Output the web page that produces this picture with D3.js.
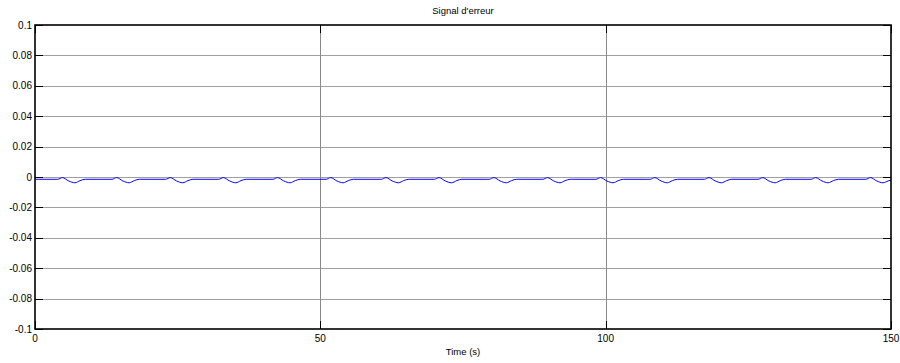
<!DOCTYPE html>
<html>
<head>
<meta charset="utf-8">
<script src="https://cdn.jsdelivr.net/npm/d3@7"></script>
<style>
  html, body { margin: 0; padding: 0; background: #fff; }
  svg { display: block; font-family: "Liberation Sans", Arial, sans-serif; }
</style>
</head>
<body>
<svg id="chart" width="900" height="363"></svg>
<script>
const chartTitle = "Signal d'erreur";
const xLabel = "Time (s)";
const xTicks = [0, 50, 100, 150];
const yTicks = [-0.1, -0.08, -0.06, -0.04, -0.02, 0, 0.02, 0.04, 0.06, 0.08, 0.1];
const yTickLabels = ["-0.1", "-0.08", "-0.06", "-0.04", "-0.02", "0", "0.02", "0.04", "0.06", "0.08", "0.1"];

const times = [
  0,
  4.0, 4.8, 5.9, 7.0, 7.9, 8.8,
  13.5, 14.3, 15.4, 16.5, 17.4, 18.3,
  22.9, 23.7, 24.8, 25.9, 26.8, 27.7,
  32.2, 33.0, 34.1, 35.2, 36.1, 37.0,
  41.7, 42.5, 43.6, 44.7, 45.6, 46.5,
  51.0, 51.8, 52.9, 54.0, 54.9, 55.8,
  60.7, 61.5, 62.6, 63.7, 64.6, 65.5,
  70.0, 70.8, 71.9, 73.0, 73.9, 74.8,
  79.6, 80.4, 81.5, 82.6, 83.5, 84.4,
  89.0, 89.8, 90.9, 92.0, 92.9, 93.8,
  98.3, 99.1, 100.2, 101.3, 102.2, 103.1,
  107.8, 108.6, 109.7, 110.8, 111.7, 112.6,
  117.3, 118.1, 119.2, 120.3, 121.2, 122.1,
  126.7, 127.5, 128.6, 129.7, 130.6, 131.5,
  136.0, 136.8, 137.9, 139.0, 139.9, 140.8,
  145.6, 146.4, 147.5, 148.6, 149.5, 150
];
const values = [
  -0.0015,
  -0.0015, -0.0004, -0.0026, -0.0038, -0.0024, -0.0015,
  -0.0015, -0.0004, -0.0026, -0.0038, -0.0024, -0.0015,
  -0.0015, -0.0004, -0.0026, -0.0038, -0.0024, -0.0015,
  -0.0015, -0.0004, -0.0026, -0.0038, -0.0024, -0.0015,
  -0.0015, -0.0004, -0.0026, -0.0038, -0.0024, -0.0015,
  -0.0015, -0.0004, -0.0026, -0.0038, -0.0024, -0.0015,
  -0.0015, -0.0004, -0.0026, -0.0038, -0.0024, -0.0015,
  -0.0015, -0.0004, -0.0026, -0.0038, -0.0024, -0.0015,
  -0.0015, -0.0004, -0.0026, -0.0038, -0.0024, -0.0015,
  -0.0015, -0.0004, -0.0026, -0.0038, -0.0024, -0.0015,
  -0.0015, -0.0004, -0.0026, -0.0038, -0.0024, -0.0015,
  -0.0015, -0.0004, -0.0026, -0.0038, -0.0024, -0.0015,
  -0.0015, -0.0004, -0.0026, -0.0038, -0.0024, -0.0015,
  -0.0015, -0.0004, -0.0026, -0.0038, -0.0024, -0.0015,
  -0.0015, -0.0004, -0.0026, -0.0038, -0.0024, -0.0015,
  -0.0015, -0.0004, -0.0026, -0.0038, -0.0026, -0.0020
];

const margin = { left: 35, right: 9, top: 25, bottom: 34 };
const W = 900, H = 363;
const svg = d3.select("#chart");
const x = d3.scaleLinear().domain([0, 150]).range([margin.left, W - margin.right]);
const y = d3.scaleLinear().domain([-0.1, 0.1]).range([H - margin.bottom, margin.top]);
const x0 = x.range()[0], x1 = x.range()[1], y0 = y.range()[0], y1 = y.range()[1];

// grid
const grid = svg.append("g");
grid.selectAll("line.hg").data(yTicks.filter(v => v > -0.1 && v < 0.1)).enter().append("line")
  .attr("x1", x0).attr("x2", x1)
  .attr("y1", d => Math.round(y(d)) + 0.5).attr("y2", d => Math.round(y(d)) + 0.5)
  .attr("stroke", "#a0a0a0").attr("stroke-width", 1);
grid.selectAll("line.vg").data(xTicks.filter(v => v > 0 && v < 150)).enter().append("line")
  .attr("x1", d => Math.round(x(d)) + 0.5).attr("x2", d => Math.round(x(d)) + 0.5)
  .attr("y1", y1).attr("y2", y0)
  .attr("stroke", "#8a8a8a").attr("stroke-width", 1);

// data line
const line = d3.line().curve(d3.curveMonotoneX).x((d, i) => x(times[i])).y((d, i) => y(values[i]));
svg.append("path").datum(values).attr("d", line)
  .attr("fill", "none").attr("stroke", "#0000ff").attr("stroke-width", 1);

// axes box
svg.append("rect").attr("x", x0).attr("y", y1).attr("width", x1 - x0).attr("height", y0 - y1)
  .attr("fill", "none").attr("stroke", "#000").attr("stroke-width", 1.6);

// ticks (inside)
const tl = 8;
const tk = svg.append("g").attr("stroke", "#000").attr("stroke-width", 1);
xTicks.forEach(v => {
  const px = Math.round(x(v)) + 0.5;
  tk.append("line").attr("x1", px).attr("x2", px).attr("y1", y0).attr("y2", y0 - tl);
  tk.append("line").attr("x1", px).attr("x2", px).attr("y1", y1).attr("y2", y1 + tl);
});
yTicks.forEach(v => {
  const py = Math.round(y(v)) + 0.5;
  tk.append("line").attr("x1", x0).attr("x2", x0 + tl).attr("y1", py).attr("y2", py);
  tk.append("line").attr("x1", x1).attr("x2", x1 - tl).attr("y1", py).attr("y2", py);
});

// tick labels
svg.append("g").selectAll("text").data(xTicks).enter().append("text")
  .attr("x", d => x(d)).attr("y", y0 + 13)
  .attr("text-anchor", "middle").attr("font-size", 10).attr("fill", "#000")
  .text(d => d);
svg.append("g").selectAll("text").data(yTicks).enter().append("text")
  .attr("x", x0 - 3).attr("y", d => y(d) + 3.5)
  .attr("text-anchor", "end").attr("font-size", 10).attr("fill", "#000")
  .text((d, i) => yTickLabels[i]);

// title and label
svg.append("text").attr("x", (x0 + x1) / 2).attr("y", 14)
  .attr("text-anchor", "middle").attr("font-size", 9.5).attr("fill", "#000").text(chartTitle);
svg.append("text").attr("x", (x0 + x1) / 2).attr("y", 355)
  .attr("text-anchor", "middle").attr("font-size", 9.5).attr("fill", "#000").text(xLabel);
</script>
</body>
</html>
